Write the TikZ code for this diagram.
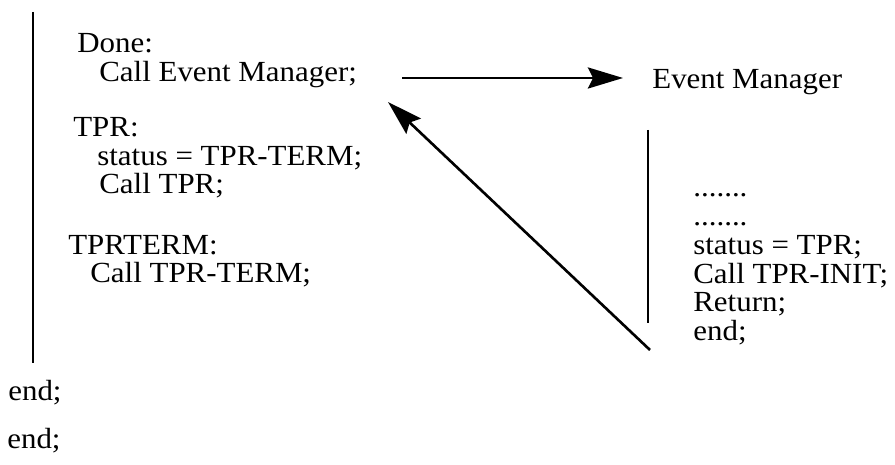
\documentclass[tikz,border=0pt]{standalone}
\usepackage{fontspec}
\setmainfont[FakeStretch=1.06]{Liberation Serif}
\usetikzlibrary{arrows.meta,positioning}

\begin{document}
\begin{tikzpicture}[x=0.02cm,y=-0.02cm,node distance=16.2pt,
	code/.style={inner sep=0pt,anchor=base west,font=\fontsize{16.6pt}{18pt}\selectfont},
	bar/.style={line width=1.2pt},
	flow/.style={line width=1.5pt,-{Stealth[length=20pt,width=12pt,inset=3pt]}}]

	\useasboundingbox (0,0) rectangle (895,465);

	% outer procedure
	\node[code] (done)     at (77,53)  {Done:};
	\node[code] (callem)   at (99,82)  {Call Event Manager;};
	\node[code] (tpr)      at (73,137) {TPR:};
	\node[code] (settm)    at (97,166) {status = TPR-TERM;};
	\node[code] (calltpr)  at (99,194) {Call TPR;};
	\node[code] (tprterm)  at (68,255) {TPRTERM:};
	\node[code] (callterm) at (90,283) {Call TPR-TERM;};
	\node[code] (end1)     at (8,400)  {end;};
	\node[code] (end2)     at (7,448)  {end;};

	% event manager
	\node[code] (evmgr)    at (652,89)  {Event Manager};
	\node[code] (dots1)    at (693,197) {.......};
	\node[code] (dots2)    at (693,226) {.......};
	\node[code] (settpr)   at (693,255) {status = TPR;};
	\node[code] (callinit) [below=of settpr.base west,anchor=base west] {Call TPR-INIT;};
	\node[code] (ret)      [below=of callinit.base west,anchor=base west] {Return;};
	\node[code] (end3)     [below=of ret.base west,anchor=base west] {end;};

	\coordinate (ltop) at (33,12);
	\coordinate (lbot) at (33,363);
	\coordinate (rtop) at (648,130);
	\coordinate (rbot) at (648,323);
	\coordinate (hs) at (402,78);
	\coordinate (he) at (623,78);
	\coordinate (ds) at (650,350);
	\coordinate (de) at (388,102);

	\draw[bar] (ltop) -- (lbot);
	\draw[bar] (rtop) -- (rbot);
	\draw[flow] (hs) -- (he);
	\draw[flow] (ds) -- (de);

\end{tikzpicture}
\end{document}
